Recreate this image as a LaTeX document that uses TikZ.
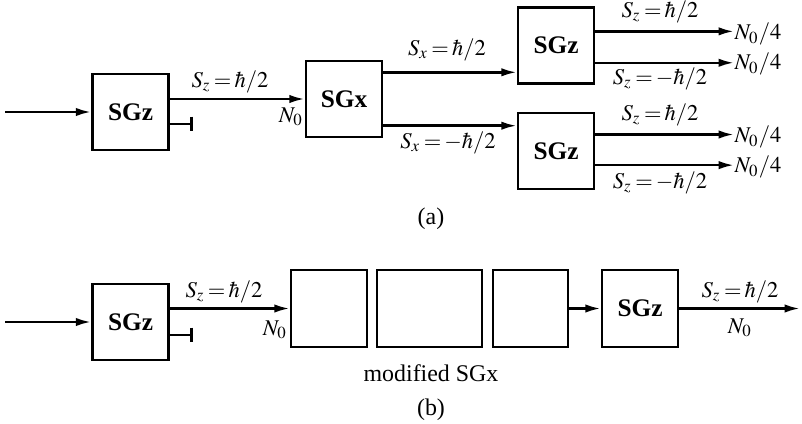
\documentclass[tikz,border=0pt]{standalone}
\usepackage{mathptmx}
\usepackage{fontspec}
\setmainfont{Liberation Serif}
\usetikzlibrary{arrows.meta,calc}

\newcommand{\eqs}{\mskip2.5mu{=}\mskip2.5mu}

\tikzset{
  sg/.style={draw, line width=0.9pt, inner sep=0pt,
    minimum width=0.95cm, minimum height=0.95cm,
    font=\bfseries\fontsize{9}{11}\selectfont},
  beam/.style={line width=0.9pt, -{Latex[length=5.5pt,width=3pt]}},
  blocked/.style={line width=0.9pt, -{Bar[width=5.3pt,line width=0.9pt]}},
  lbl/.style={inner sep=0pt, font=\fontsize{8}{10}\selectfont},
  subcap/.style={inner sep=0pt, font=\fontsize{8.5}{10}\selectfont},
}

\begin{document}
\begin{tikzpicture}[x=0.0125cm,y=-0.0125cm]
\useasboundingbox (0,0) rectangle (802,423);

% (a)
\node[sg] (za) at (130.5,112) {SGz};
\node[sg] (xa) at (344,99) {SGx};
\node[sg] (zu) at (556,45.5) {SGz};
\node[sg] (zl) at (556,151) {SGz};
\coordinate (ina) at (5,112);
\coordinate (stopa) at (193,124);

\draw[beam] (ina) -- (za.west);
\draw[beam] (za.east |- xa.west) -- (xa.west);
\draw[blocked] (za.east |- stopa) -- (stopa);
\node[lbl] (sza) at (230,82) {$S_z\eqs\hbar/2$};
\node[lbl] (na) at (291,117) {$N_0$};

\coordinate (xau) at ($(xa.north east)!0.16!(xa.south east)$);
\coordinate (xal) at ($(xa.north east)!0.84!(xa.south east)$);
\draw[beam] (xau) -- (xau -| zu.west);
\draw[beam] (xal) -- (xal -| zl.west);
\node[lbl] (sxu) at (447,50) {$S_x\eqs\hbar/2$};
\node[lbl] (sxl) at (448,143) {$S_x\eqs{-}\hbar/2$};

\coordinate (zu1) at ($(zu.north east)!0.32!(zu.south east)$);
\coordinate (zu2) at ($(zu.north east)!0.72!(zu.south east)$);
\coordinate (zl1) at ($(zl.north east)!0.29!(zl.south east)$);
\coordinate (zl2) at ($(zl.north east)!0.68!(zl.south east)$);
\node[lbl, anchor=west] (nu1) at (734,34) {$N_0/4$};
\node[lbl, anchor=west] (nu2) at (734,64) {$N_0/4$};
\node[lbl, anchor=west] (nl1) at (734,137) {$N_0/4$};
\node[lbl, anchor=west] (nl2) at (734,167) {$N_0/4$};
\draw[beam] (zu1) -- (zu1 -| nu1.west);
\draw[beam] (zu2) -- (zu2 -| nu2.west);
\draw[beam] (zl1) -- (zl1 -| nl1.west);
\draw[beam] (zl2) -- (zl2 -| nl2.west);
\node[lbl] (szu1) at (660,12) {$S_z\eqs\hbar/2$};
\node[lbl] (szu2) at (660,79) {$S_z\eqs{-}\hbar/2$};
\node[lbl] (szl1) at (660,115) {$S_z\eqs\hbar/2$};
\node[lbl] (szl2) at (660,183) {$S_z\eqs{-}\hbar/2$};

\node[subcap] (capa) at (431,219) {(a)};

% (b)
\node[sg] (zb) at (130.5,322) {SGz};
\node[sg, minimum height=0.9625cm] (m1) at (329,308.5) {};
\node[sg, minimum height=0.9625cm, minimum width=1.3125cm] (m2) at (429.5,308.5) {};
\node[sg, minimum height=0.9625cm, minimum width=0.9375cm] (m3) at (530.5,308.5) {};
\node[sg, minimum height=0.9625cm] (zc) at (640,308.5) {SGz};
\coordinate (inb) at (5,322);
\coordinate (stopb) at (193,335);
\coordinate (outb) at (800,308.5);

\draw[beam] (inb) -- (zb.west);
\draw[beam] (zb.east |- m1.west) -- (m1.west);
\draw[blocked] (zb.east |- stopb) -- (stopb);
\node[lbl] (szb) at (224,292) {$S_z\eqs\hbar/2$};
\node[lbl] (nb) at (275,330) {$N_0$};

\draw[beam] (m3.east) -- (zc.west);
\draw[beam] (zc.east) -- (outb);
\node[lbl] (szc) at (740,292) {$S_z\eqs\hbar/2$};
\node[lbl] (nc) at (740,328) {$N_0$};

\node[subcap] (mod) at (431,373) {modified SGx};
\node[subcap] (capb) at (431,410) {(b)};
\end{tikzpicture}
\end{document}
